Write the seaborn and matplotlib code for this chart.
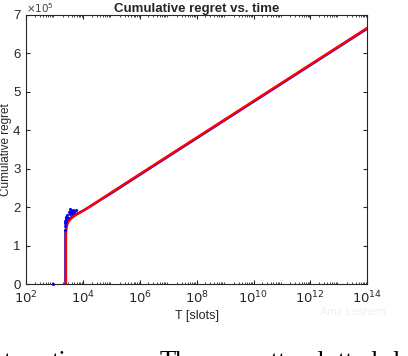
import numpy as np
import pandas as pd
import matplotlib
matplotlib.use("Agg")
import matplotlib.pyplot as plt
import matplotlib.ticker as mticker
import seaborn as sns

# red curve (average / bound)
red_logT = [3.40, 3.40, 3.42, 3.46, 3.51, 3.60, 3.75, 3.90, 4.10, 4.37, 4.60, 4.89, 6.0, 8.0, 10.0, 12.0, 14.0]
red_regret = [0, 1.30e5, 1.48e5, 1.58e5, 1.65e5, 1.72e5, 1.80e5, 1.86e5, 1.95e5, 2.08e5, 2.19e5, 2.33e5,
              2.86e5, 3.81e5, 4.76e5, 5.71e5, 6.66e5]

# blue runs (slightly under the red line)
blue_logT = [3.38, 3.38, 3.45, 3.55, 3.70, 3.90, 4.10, 4.37, 4.60, 4.89, 6.0, 8.0, 10.0, 12.0, 14.0]
blue_regret = [0, 1.35e5, 1.62e5, 1.72e5, 1.80e5, 1.87e5, 1.95e5, 2.07e5, 2.18e5, 2.31e5,
               2.84e5, 3.79e5, 4.74e5, 5.69e5, 6.64e5]

# blue scatter points near the start
dots_logT = [2.95, 3.36, 3.37, 3.37, 3.38, 3.39, 3.40, 3.42, 3.45, 3.47, 3.50, 3.53, 3.55, 3.58, 3.62, 3.66, 3.70, 3.75]
dots_regret = [0, 1.40e5, 1.50e5, 1.58e5, 1.65e5, 1.70e5, 1.62e5, 1.75e5, 1.80e5, 1.72e5, 1.88e5, 1.83e5,
               1.95e5, 1.90e5, 1.85e5, 1.93e5, 1.88e5, 1.92e5]

xtick_exp = [2, 4, 6, 8, 10, 12, 14]
ytick_vals = [0, 1, 2, 3, 4, 5, 6, 7]

sns.set_style("ticks")
plt.rcParams["font.family"] = ["Liberation Sans", "DejaVu Sans"]

fig = plt.figure(figsize=(4.08, 3.56), dpi=100)
ax = fig.add_axes([0.064, 0.202, 0.836, 0.756])

red = pd.DataFrame({"T": np.power(10.0, red_logT), "regret": red_regret})
blue = pd.DataFrame({"T": np.power(10.0, blue_logT), "regret": blue_regret})
dots = pd.DataFrame({"T": np.power(10.0, dots_logT), "regret": dots_regret})

sns.lineplot(data=blue, x="T", y="regret", color="#0000ff", lw=1.6, ax=ax, sort=False, estimator=None)
sns.scatterplot(data=dots, x="T", y="regret", color="#0000ff", s=5, marker="o", linewidth=0, ax=ax,
                clip_on=False, zorder=3)
sns.lineplot(data=red, x="T", y="regret", color="#ff0000", lw=1.8, ax=ax, sort=False, estimator=None)

ax.set_xscale("log")
ax.set_xlim(1e2, 1e14)
ax.set_ylim(0, 7e5)
ax.set_xticks([10.0 ** e for e in xtick_exp])
ax.set_xticklabels([f"$10^{{{e}}}$" for e in xtick_exp])
ax.xaxis.set_minor_locator(mticker.LogLocator(base=10, subs=np.arange(2, 10), numticks=100))
ax.xaxis.set_minor_formatter(mticker.NullFormatter())
ax.set_yticks([v * 1e5 for v in ytick_vals])
ax.set_yticklabels([str(v) for v in ytick_vals])

ax.tick_params(which="both", direction="in", top=True, right=True, labelsize=9.5, color="#262626", pad=4)
ax.tick_params(which="major", length=3)
ax.tick_params(which="minor", length=1.5)
for s in ax.spines.values():
    s.set_linewidth(0.8)
    s.set_color("#262626")

ax.set_xlabel("T [slots]", fontsize=9, labelpad=3)
ax.set_ylabel("Cumulative regret", fontsize=8.5, labelpad=1)
ax.set_title("Cumulative regret vs. time", fontsize=9.5, fontweight="bold", pad=2)
ax.text(0.0, 0.998, r"$\times10^5$", transform=ax.transAxes, fontsize=7.5, ha="left", va="bottom",
        color="#404040")

# watermark and cropped caption text from the source page
fig.text(0.785, 0.115, "Amir Leshem", fontsize=8, color="#f0f0f0")
caption = ["t", "r", "time.", "The", "scatter", "plotted", "l"]
caption_x = [4, 38, 52, 160, 238, 305, 392]
for word, px in zip(caption, caption_x):
    fig.text(px / 408, -0.035, word, fontsize=19,
             family=["Liberation Serif", "DejaVu Serif"], color="black")

fig.savefig("out.png", dpi=100)
